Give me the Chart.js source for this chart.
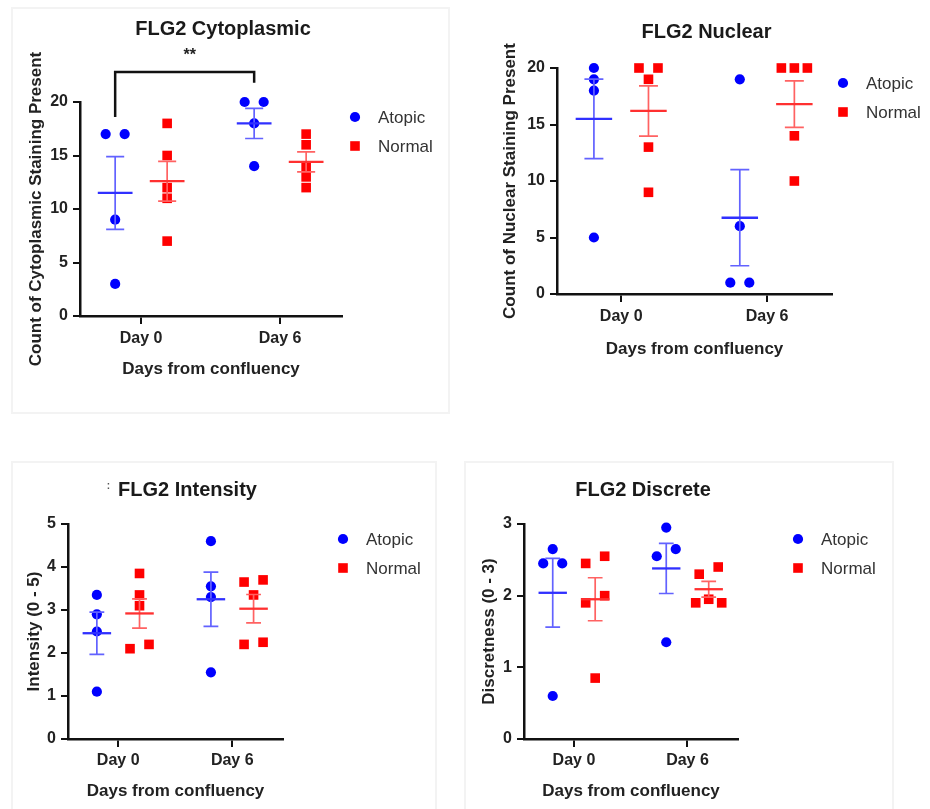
<!DOCTYPE html>
<html>
<head>
<meta charset="utf-8">
<script src="https://cdn.jsdelivr.net/npm/chart.js@4.4.1/dist/chart.umd.min.js"></script>
<style>
  body { margin: 0; background: #fff; width: 930px; height: 809px; position: relative; overflow: hidden; }
  canvas { position: absolute; }
  .frame { position: absolute; border: 2px solid #f3f3f3; }
</style>
</head>
<body>
<div class="frame" style="left:11px;top:7px;width:435px;height:403px"></div>
<div class="frame" style="left:11px;top:461px;width:422px;height:360px"></div>
<div class="frame" style="left:464px;top:461px;width:426px;height:360px"></div>
<canvas id="cyto" width="465" height="400" style="left:0;top:0"></canvas>
<canvas id="nuc" width="465" height="400" style="left:465px;top:0"></canvas>
<canvas id="inten" width="465" height="369" style="left:0;top:440px"></canvas>
<canvas id="disc" width="465" height="369" style="left:465px;top:440px"></canvas>
<script>
// categories
const dayLabels = ['Day 0', 'Day 6'];

// FLG2 Cytoplasmic (counts)
const cytoAtopicDay0 = [17, 17, 9, 3];
const cytoAtopicDay6 = [20, 20, 18, 14];
const cytoNormalDay0 = [18, 15, 12, 11, 7];
const cytoNormalDay6 = [17, 16, 14, 13, 12];
const cytoAtopicMean = [11.5, 18.0];
const cytoAtopicSem = [3.4, 1.41];
const cytoNormalMean = [12.6, 14.4];
const cytoNormalSem = [1.86, 0.93];

// FLG2 Nuclear (counts)
const nucAtopicDay0 = [20, 19, 18, 5];
const nucAtopicDay6 = [19, 6, 1, 1];
const nucNormalDay0 = [20, 20, 19, 13, 9];
const nucNormalDay6 = [20, 20, 20, 14, 10];
const nucAtopicMean = [15.5, 6.75];
const nucAtopicSem = [3.52, 4.25];
const nucNormalMean = [16.2, 16.8];
const nucNormalSem = [2.22, 2.06];

// FLG2 Intensity (0 - 5)
const intAtopicDay0 = [3.35, 2.9, 2.5, 1.1];
const intAtopicDay6 = [4.6, 3.55, 3.3, 1.55];
const intNormalDay0 = [3.85, 3.35, 3.1, 2.1, 2.2];
const intNormalDay6 = [3.65, 3.7, 3.35, 2.2, 2.25];
const intAtopicMean = [2.46, 3.25];
const intAtopicSem = [0.49, 0.63];
const intNormalMean = [2.92, 3.03];
const intNormalSem = [0.34, 0.33];

// FLG2 Discrete (0 - 3)
const discAtopicDay0 = [2.65, 2.45, 2.45, 0.6];
const discAtopicDay6 = [2.95, 2.55, 2.65, 1.35];
const discNormalDay0 = [2.45, 2.55, 1.9, 2.0, 0.85];
const discNormalDay6 = [2.3, 2.4, 1.9, 1.95, 1.9];
const discAtopicMean = [2.04, 2.38];
const discAtopicSem = [0.48, 0.35];
const discNormalMean = [1.95, 2.09];
const discNormalSem = [0.30, 0.11];

const FONT = '"Liberation Sans", Arial, sans-serif';
const groupOffset = { Atopic: -0.187, Normal: 0.187 };
const colors = {
  Atopic: { point: '#0000ff', bar: '#6262ff', mean: '#3030ff' },
  Normal: { point: '#ff0000', bar: '#ff6262', mean: '#ff3030' }
};

const panels = [
  { id: 'cyto', title: 'FLG2 Cytoplasmic', yTitle: 'Count of Cytoplasmic Staining Present', yMax: 20, yStep: 5,
    atopic: [cytoAtopicDay0, cytoAtopicDay6], normal: [cytoNormalDay0, cytoNormalDay6],
    atopicMean: cytoAtopicMean, atopicSem: cytoAtopicSem, normalMean: cytoNormalMean, normalSem: cytoNormalSem,
    L: { padTop: 102, padRight: 123, titleY: 29, xAxisH: 84, xTitlePad: 20, xTickPad: 5, yAxisW: 80, yTitlePad: 26, legendDx: 13 },
    bracket: true },
  { id: 'nuc', title: 'FLG2 Nuclear', yTitle: 'Count of Nuclear Staining Present', yMax: 20, yStep: 5,
    atopic: [nucAtopicDay0, nucAtopicDay6], normal: [nucNormalDay0, nucNormalDay6],
    atopicMean: nucAtopicMean, atopicSem: nucAtopicSem, normalMean: nucNormalMean, normalSem: nucNormalSem,
    L: { padTop: 68, padRight: 98, titleY: 32, xAxisH: 106, xTitlePad: 40, xTickPad: 5, yAxisW: 92, yTitlePad: 35, legendDx: 11 } },
  { id: 'inten', title: 'FLG2 Intensity', yTitle: 'Intensity (0 - 5)', yMax: 5, yStep: 1,
    atopic: [intAtopicDay0, intAtopicDay6], normal: [intNormalDay0, intNormalDay6],
    atopicMean: intAtopicMean, atopicSem: intAtopicSem, normalMean: intNormalMean, normalSem: intNormalSem,
    L: { padTop: 84, padRight: 182, titleY: 50, xAxisH: 70, xTitlePad: 7, xTickPad: 4, yAxisW: 68, yTitlePad: 24, legendDx: 60 },
    titleMark: true },
  { id: 'disc', title: 'FLG2 Discrete', yTitle: 'Discretness (0 - 3)', yMax: 3, yStep: 1,
    atopic: [discAtopicDay0, discAtopicDay6], normal: [discNormalDay0, discNormalDay6],
    atopicMean: discAtopicMean, atopicSem: discAtopicSem, normalMean: discNormalMean, normalSem: discNormalSem,
    L: { padTop: 84, padRight: 192, titleY: 50, xAxisH: 70, xTitlePad: 7, xTickPad: 4, yAxisW: 59, yTitlePad: 14, legendDx: 60 } }
];

// spread overlapping points sideways like a column scatter (pixel offsets)
function spreadOffsets(values, thresh) {
  const order = values.map((v, i) => i).sort((a, b) => values[a] - values[b]);
  const offs = values.map(() => 0);
  let start = 0;
  for (let k = 1; k <= order.length; k++) {
    if (k === order.length || values[order[k]] - values[order[k - 1]] >= thresh) {
      const members = order.slice(start, k).sort((a, b) => a - b);
      const n = members.length;
      const gap = n === 2 ? 19 : 13;
      members.forEach((m, j) => { offs[m] = (j - (n - 1) / 2) * gap; });
      start = k;
    }
  }
  return offs;
}

function buildPoints(days, name, thresh, ppu) {
  const pts = [];
  days.forEach((vals, d) => {
    const offs = spreadOffsets(vals, thresh);
    vals.forEach((v, i) => pts.push({ x: d + groupOffset[name] + offs[i] / ppu, y: v }));
  });
  return pts;
}

function panelPlugin(p) {
  return {
    id: 'panel_' + p.id,
    afterDatasetsDraw(chart) {
      const { ctx, scales: { x, y } } = chart;
      const groups = [
        { name: 'Atopic', mean: p.atopicMean, sem: p.atopicSem },
        { name: 'Normal', mean: p.normalMean, sem: p.normalSem }
      ];
      ctx.save();
      groups.forEach(g => {
        g.mean.forEach((m, d) => {
          const cx = d + groupOffset[g.name];
          const px = x.getPixelForValue(cx);
          const hw = x.getPixelForValue(cx + 0.125) - px;
          const cw = x.getPixelForValue(cx + 0.065) - px;
          const yT = y.getPixelForValue(m + g.sem[d]);
          const yB = y.getPixelForValue(m - g.sem[d]);
          const yM = y.getPixelForValue(m);
          ctx.strokeStyle = colors[g.name].bar;
          ctx.lineWidth = 1.7;
          ctx.beginPath();
          ctx.moveTo(px, yT); ctx.lineTo(px, yB);
          ctx.moveTo(px - cw, yT); ctx.lineTo(px + cw, yT);
          ctx.moveTo(px - cw, yB); ctx.lineTo(px + cw, yB);
          ctx.stroke();
          ctx.strokeStyle = colors[g.name].mean;
          ctx.lineWidth = 2.3;
          ctx.beginPath();
          ctx.moveTo(px - hw, yM); ctx.lineTo(px + hw, yM);
          ctx.stroke();
        });
      });
      ctx.restore();
    },
    afterDraw(chart) {
      const { ctx, chartArea: a, scales: { x, y } } = chart;
      ctx.save();
      ctx.textBaseline = 'middle';
      // title
      ctx.fillStyle = '#1a1a1a';
      ctx.font = 'bold 20px ' + FONT;
      ctx.textAlign = 'center';
      ctx.fillText(p.title, (a.left + a.right) / 2 + 12, p.L.titleY);
      if (p.titleMark) {
        ctx.font = 'bold 10px ' + FONT;
        ctx.fillStyle = '#555';
        ctx.fillText(':', (a.left + a.right) / 2 + 12 - 79, p.L.titleY - 4);
      }
      // legend
      chart.data.datasets.forEach((ds, i) => {
        const mx = a.right + p.L.legendDx;
        const my = a.top + 15 + i * 29;
        ctx.fillStyle = ds.backgroundColor;
        if (ds.pointStyle === 'rect') {
          ctx.fillRect(mx - 4.8, my - 4.8, 9.6, 9.6);
        } else {
          ctx.beginPath(); ctx.arc(mx, my, 5.1, 0, Math.PI * 2); ctx.fill();
        }
        ctx.fillStyle = '#333';
        ctx.font = '17px ' + FONT;
        ctx.textAlign = 'left';
        ctx.fillText(ds.label, mx + 23, my + 1);
      });
      // significance bracket Day 0 vs Day 6 (atopic)
      if (p.bracket) {
        const x0 = x.getPixelForValue(0 + groupOffset.Atopic);
        const x1 = x.getPixelForValue(1 + groupOffset.Atopic);
        ctx.strokeStyle = '#111';
        ctx.lineWidth = 2.5;
        ctx.beginPath();
        ctx.moveTo(x0, y.getPixelForValue(18.6));
        ctx.lineTo(x0, y.getPixelForValue(22.8));
        ctx.lineTo(x1, y.getPixelForValue(22.8));
        ctx.lineTo(x1, y.getPixelForValue(21.8));
        ctx.stroke();
        ctx.fillStyle = '#222';
        ctx.font = 'bold 16px ' + FONT;
        ctx.textAlign = 'center';
        ctx.fillText('**', x.getPixelForValue(0.35), y.getPixelForValue(24.3));
      }
      ctx.restore();
    }
  };
}

panels.forEach(p => {
  const L = p.L;
  const thresh = p.yMax * 0.04;
  const chart = new Chart(document.getElementById(p.id), {
    type: 'scatter',
    data: {
      datasets: [
        { label: 'Atopic', data: buildPoints(p.atopic, 'Atopic', thresh, 1e9), pointStyle: 'circle', clip: false,
          pointRadius: 5.1, borderWidth: 0, backgroundColor: colors.Atopic.point, borderColor: colors.Atopic.point },
        { label: 'Normal', data: buildPoints(p.normal, 'Normal', thresh, 1e9), pointStyle: 'rect', clip: false,
          pointRadius: 6.8, borderWidth: 0, backgroundColor: colors.Normal.point, borderColor: colors.Normal.point }
      ]
    },
    options: {
      responsive: false,
      animation: false,
      events: [],
      layout: { padding: { top: L.padTop, right: L.padRight, bottom: 0, left: 0 } },
      plugins: { legend: { display: false }, tooltip: { enabled: false } },
      scales: {
        x: {
          type: 'linear', min: -0.44, max: 1.445,
          afterBuildTicks: s => { s.ticks = dayLabels.map((_, i) => ({ value: i })); },
          afterFit: s => { s.height = L.xAxisH; },
          ticks: { callback: v => dayLabels[v], autoSkip: false, maxRotation: 0, padding: L.xTickPad,
                   color: '#222', font: { family: FONT, size: 16, weight: 'bold' } },
          grid: { drawOnChartArea: false, tickLength: 8, color: '#111', lineWidth: 2 },
          border: { color: '#111', width: 2.5 },
          title: { display: true, text: 'Days from confluency', color: '#222',
                   font: { family: FONT, size: 17, weight: 'bold' }, padding: { top: 0, bottom: L.xTitlePad } }
        },
        y: {
          min: 0, max: p.yMax,
          afterFit: s => { s.width = L.yAxisW; },
          ticks: { stepSize: p.yStep, padding: 5, color: '#222', font: { family: FONT, size: 16, weight: 'bold' } },
          grid: { drawOnChartArea: false, tickLength: 7, color: '#111', lineWidth: 2 },
          border: { color: '#111', width: 2.5 },
          title: { display: true, text: p.yTitle, color: '#222',
                   font: { family: FONT, size: 17, weight: 'bold' }, padding: { top: L.yTitlePad, bottom: 0 } }
        }
      }
    },
    plugins: [panelPlugin(p)]
  });
  // redo point spread now that the pixel size of one category is known
  const ppu = chart.scales.x.getPixelForValue(1) - chart.scales.x.getPixelForValue(0);
  chart.data.datasets[0].data = buildPoints(p.atopic, 'Atopic', thresh, ppu);
  chart.data.datasets[1].data = buildPoints(p.normal, 'Normal', thresh, ppu);
  chart.update('none');
});
</script>
</body>
</html>
